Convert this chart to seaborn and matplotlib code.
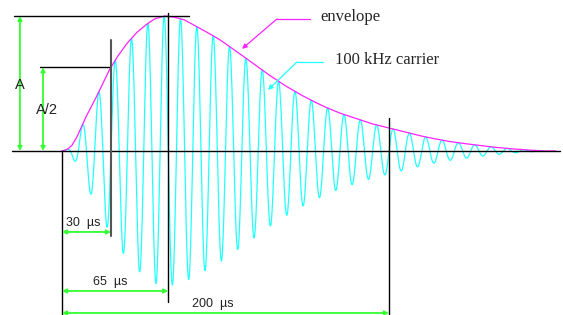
import numpy as np
import pandas as pd
import seaborn as sns
import matplotlib
matplotlib.use("Agg")
import matplotlib.pyplot as plt

# envelope: time (us) vs relative amplitude (A = 1)
env_t = [0, 3, 6, 9, 12, 15, 18, 21, 25, 29, 34, 40, 46, 52, 57, 63, 69, 75, 84, 90, 97, 104,
         111, 119, 127, 137, 147, 155, 162, 170, 180, 190, 200, 210, 220, 228, 237, 246, 256,
         265, 275, 285, 295]
env_a = [0, 0.01, 0.04, 0.10, 0.18, 0.26, 0.33, 0.40, 0.50, 0.60, 0.70, 0.80, 0.88, 0.94, 0.98,
         1.0, 0.99, 0.97, 0.91, 0.87, 0.82, 0.76, 0.70, 0.63, 0.56, 0.48, 0.41, 0.36, 0.32, 0.28,
         0.24, 0.20, 0.17, 0.14, 0.11, 0.09, 0.07, 0.055, 0.04, 0.027, 0.016, 0.007, 0]
carrier_khz = 100
carrier_phase_us = 5
marks_us = [30, 65, 200]
mark_labels = ["30  µs", "65  µs", "200  µs"]

CYAN = "#22ffff"
MAGENTA = "#ff22ff"
GREEN = "#33ff33"

sns.set_theme(style="white")
plt.rcParams['font.family'] = ['Liberation Sans', 'DejaVu Sans']

fig = plt.figure(figsize=(5.63, 3.15), dpi=100)
ax = fig.add_axes([0, 0, 1, 1])
ax.set_xlim(-37.9, 306.4)
ax.set_ylim(-1.215, 1.118)
ax.axis("off")

# carrier = envelope times 100 kHz sine
t = np.linspace(0, env_t[-1], 6001)
env = np.interp(t, env_t, env_a)
period = 1000.0 / carrier_khz
wave = pd.DataFrame({"t": t, "a": -env * np.sin(2 * np.pi * (t - carrier_phase_us) / period)})
sns.lineplot(data=wave, x="t", y="a", ax=ax, color=CYAN, lw=0.9, estimator=None, sort=False)

env_df = pd.DataFrame({"t": env_t + [302], "a": env_a + [0]})
sns.lineplot(data=env_df, x="t", y="a", ax=ax, color=MAGENTA, lw=0.9, estimator=None, sort=False)

half = np.interp(marks_us[0], env_t, env_a)

# baseline and reference lines
ax.plot([-30.6, 304.6], [0, 0], color="black", lw=1)
ax.plot([-29.4, 77.7], [1, 1], color="black", lw=1)
ax.plot([-13.5, marks_us[0]], [half, half], color="black", lw=1)
ax.plot([0, 0], [0, -1.22], color="black", lw=1)
ax.plot([marks_us[0]] * 2, [0.82, -0.63], color="#555555", lw=1.5)
ax.plot([marks_us[1]] * 2, [1.02, -1.12], color="black", lw=1)
ax.plot([marks_us[2]] * 2, [0.244, -1.22], color="black", lw=1)

arrow = dict(arrowstyle="<|-|>", color=GREEN, lw=1.3, mutation_scale=6, shrinkA=0, shrinkB=0)
ax.annotate("", xy=(-25.7, 1), xytext=(-25.7, 0), arrowprops=arrow)
ax.annotate("", xy=(-11.6, half), xytext=(-11.6, 0), arrowprops=arrow)
ax.text(-25.7, 0.49, "A", ha="center", va="center", fontsize=10.5, color="#222222")
ax.text(-9.2, 0.30, "A/2", ha="center", va="center", fontsize=10.5, color="#222222")

arrow_y = [-0.60, -1.037, -1.20]
text_pos = [(12.8, -0.533), (29.4, -0.97), (92.4, -1.133)]
for m, lab, ay, (tx, ty) in zip(marks_us, mark_labels, arrow_y, text_pos):
    ax.annotate("", xy=(m, ay), xytext=(0, ay), arrowprops=arrow)
    ax.text(tx, ty, lab, ha="center", va="center", fontsize=9, color="#222222")

# callouts
ax.plot([151.7, 131.5], [0.978, 0.978], color=MAGENTA, lw=0.9)
ax.annotate("", xy=(110.1, 0.756), xytext=(131.5, 0.978),
            arrowprops=dict(arrowstyle="-|>", color=MAGENTA, lw=0.9, mutation_scale=7, shrinkA=0, shrinkB=0))
ax.plot([159.6, 143.7], [0.659, 0.659], color=CYAN, lw=0.9)
ax.annotate("", xy=(126, 0.452), xytext=(143.7, 0.659),
            arrowprops=dict(arrowstyle="-|>", color=CYAN, lw=0.9, mutation_scale=7, shrinkA=0, shrinkB=0))
ax.text(157.8, 0.99, "envelope", ha="left", va="center", fontsize=12, family="Liberation Serif")
ax.text(167, 0.674, "100 kHz carrier", ha="left", va="center", fontsize=12, family="Liberation Serif")

fig.savefig("out.png", dpi=100)
